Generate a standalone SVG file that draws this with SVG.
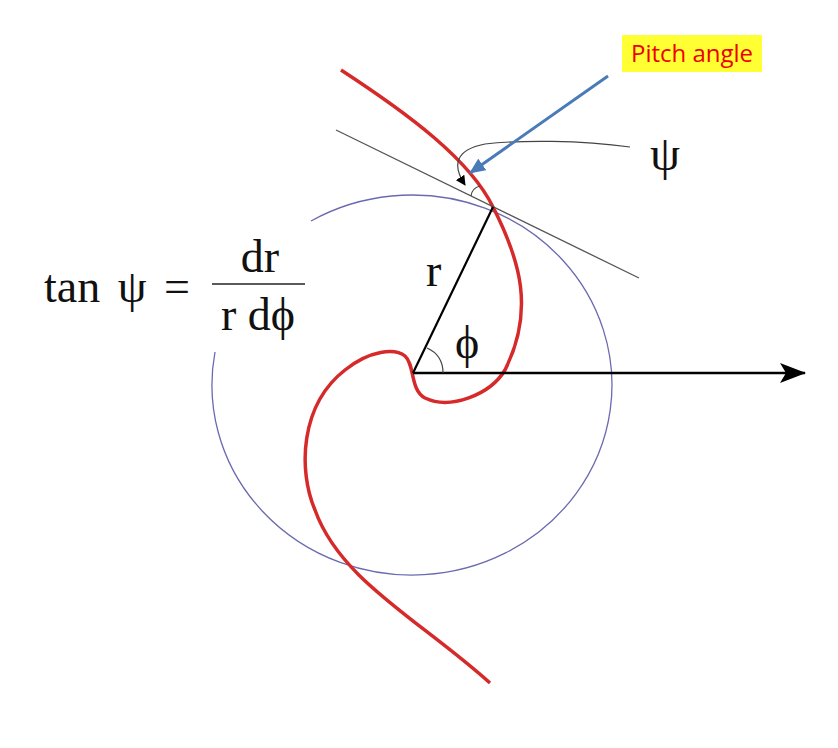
<svg xmlns="http://www.w3.org/2000/svg" width="838" height="748" viewBox="0 0 838 748">
<style>
.m{font-family:"Liberation Serif",serif;fill:#111}
.thin{fill:none;stroke:#444;stroke-width:1.2}
</style>
<defs>
<marker id="ah" markerWidth="10" markerHeight="10" refX="9" refY="5" orient="auto" markerUnits="userSpaceOnUse" viewBox="0 0 10 10"><path d="M0,0 L10,5 L0,10 Z" fill="#000"/></marker>
<marker id="big" markerWidth="26" markerHeight="20" refX="25" refY="10" orient="auto" markerUnits="userSpaceOnUse" viewBox="0 0 26 20"><path d="M0,0 L26,10 L0,20 L6,10 Z" fill="#000"/></marker>
<marker id="bl" markerWidth="16" markerHeight="14" refX="15" refY="7" orient="auto" markerUnits="userSpaceOnUse" viewBox="0 0 16 14"><path d="M0,0 L16,7 L0,14 Z" fill="#4a7ab8"/></marker>
</defs>
<rect width="838" height="748" fill="#fff"/>
<g id="circle"><path d="M311,221 A200,190 0 1 1 215,352" fill="none" stroke="#6a6ab0" stroke-width="1.3"/></g>
<g id="spiral"><path d="M341,70 C410,115 470,160 493,207 C520,260 535,310 505,370 C490,395 450,410 425,398 C410,390 415,365 405,356 C395,348 370,350 345,370 C300,405 298,470 315,510 C340,580 420,620 490,683" fill="none" stroke="#d62a2a" stroke-width="3.5"/></g>
<g id="connectors">
<line x1="336" y1="130" x2="639" y2="278" stroke="#555" stroke-width="1.3"/>
<line x1="413" y1="373" x2="805" y2="373" stroke="#000" stroke-width="2.5" marker-end="url(#big)"/>
<line x1="413" y1="373" x2="493" y2="207" stroke="#000" stroke-width="2.2"/>
<path d="M427,348 Q443,355 443,373" class="thin"/>
<path d="M630,147 C580,140 520,140 485,144 C455,150 452,165 465,185" class="thin" marker-end="url(#ah)"/>
<path d="M471,196 Q472,188 480,186" class="thin"/>
<line x1="608" y1="76" x2="470" y2="173" stroke="#4a7ab8" stroke-width="3" marker-end="url(#bl)"/>
</g>
<g id="label-pitch"><rect x="622" y="35" width="140" height="37" fill="#ffff33"/><text x="692" y="62" text-anchor="middle" font-family="Open Sans,sans-serif" font-size="24" fill="#e00">Pitch angle</text></g>
<text class="m" x="650" y="170" font-size="48">ψ</text>
<text class="m" x="44" y="302" font-size="46" word-spacing="6">tan ψ =</text>
<text class="m" x="260" y="272" font-size="46" text-anchor="middle">dr</text>
<line x1="212" y1="284" x2="305" y2="284" stroke="#222" stroke-width="1.5"/>
<text class="m" x="258" y="330" font-size="46" text-anchor="middle">r dϕ</text>
<text class="m" x="426" y="286" font-size="46">r</text>
<text class="m" x="455" y="358" font-size="46">ϕ</text>
</svg>
